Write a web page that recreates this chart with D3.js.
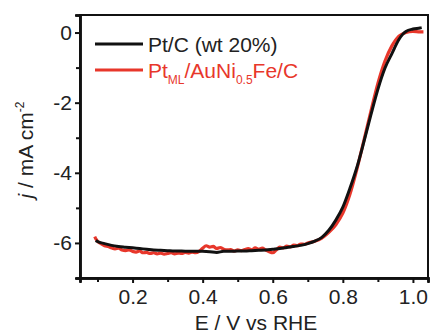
<!DOCTYPE html>
<html>
<head>
<meta charset="utf-8">
<script src="https://cdn.jsdelivr.net/npm/d3@7"></script>
<style>
  body { margin: 0; background: #fff; }
  text { font-family: "Liberation Sans", Arial, sans-serif; }
</style>
</head>
<body>
<div id="chart"></div>
<script>
// Pt/C (wt 20%) polarization curve
const ptcE = [0.095,0.10,0.12,0.14,0.16,0.18,0.20,0.22,0.24,0.26,0.28,0.30,0.32,0.34,0.36,0.38,0.40,0.42,0.44,0.46,0.48,0.50,0.52,0.54,0.56,0.58,0.60,0.62,0.64,0.66,0.68,0.70,0.72,0.74,0.76,0.78,0.80,0.82,0.84,0.86,0.88,0.90,0.92,0.94,0.96,0.97,0.98,1.00,1.02,1.025];
const ptcJ = [-5.93,-5.96,-6.02,-6.07,-6.10,-6.12,-6.14,-6.16,-6.18,-6.20,-6.21,-6.22,-6.23,-6.23,-6.24,-6.24,-6.24,-6.25,-6.27,-6.24,-6.24,-6.23,-6.23,-6.22,-6.21,-6.20,-6.18,-6.16,-6.13,-6.10,-6.07,-6.02,-5.95,-5.84,-5.64,-5.35,-4.98,-4.45,-3.85,-3.12,-2.35,-1.62,-1.02,-0.60,-0.20,-0.06,0.03,0.10,0.13,0.14];

// Pt_ML/AuNi0.5Fe/C polarization curve
const ptmlE = [0.092,0.095,0.10,0.11,0.12,0.13,0.14,0.15,0.16,0.17,0.18,0.19,0.20,0.21,0.22,0.23,0.24,0.25,0.26,0.27,0.28,0.29,0.30,0.31,0.32,0.33,0.34,0.35,0.36,0.37,0.38,0.39,0.40,0.41,0.42,0.43,0.44,0.45,0.46,0.47,0.48,0.49,0.50,0.51,0.52,0.53,0.54,0.55,0.56,0.57,0.58,0.59,0.60,0.61,0.62,0.63,0.64,0.65,0.66,0.67,0.68,0.69,0.70,0.72,0.74,0.76,0.78,0.80,0.82,0.84,0.86,0.88,0.90,0.92,0.94,0.96,0.98,1.00,1.02,1.03];
const ptmlJ = [-5.82,-5.88,-5.95,-6.02,-6.08,-6.10,-6.14,-6.17,-6.15,-6.20,-6.22,-6.20,-6.24,-6.26,-6.23,-6.28,-6.27,-6.30,-6.28,-6.31,-6.29,-6.32,-6.30,-6.28,-6.31,-6.29,-6.30,-6.27,-6.29,-6.26,-6.28,-6.24,-6.15,-6.08,-6.12,-6.10,-6.16,-6.13,-6.18,-6.20,-6.19,-6.23,-6.20,-6.22,-6.19,-6.16,-6.20,-6.14,-6.18,-6.15,-6.20,-6.25,-6.28,-6.20,-6.12,-6.14,-6.09,-6.11,-6.06,-6.08,-6.03,-6.04,-6.00,-5.95,-5.86,-5.70,-5.48,-5.15,-4.62,-3.90,-3.08,-2.25,-1.45,-0.82,-0.38,-0.10,0.00,0.03,0.02,0.02];

const xMajor = [0.2, 0.4, 0.6, 0.8, 1.0];
const xMinor = [0.1, 0.3, 0.5, 0.7, 0.9];
const yMajor = [0, -2, -4, -6];
const yMinor = [-1, -3, -5, -7];

const width = 432, height = 333;
const margin = { top: 15, right: 4, bottom: 55, left: 80 };
const fs = 21;

const svg = d3.select("#chart").append("svg")
  .attr("width", width)
  .attr("height", height);

const x = d3.scaleLinear().domain([0.05, 1.043]).range([margin.left, width - margin.right]);
const y = d3.scaleLinear().domain([-7, 0.5]).range([height - margin.bottom, margin.top]);

// frame
svg.append("rect")
  .attr("x", margin.left).attr("y", margin.top)
  .attr("width", width - margin.right - margin.left)
  .attr("height", height - margin.bottom - margin.top)
  .attr("fill", "none").attr("stroke", "#111").attr("stroke-width", 2);

// axes
svg.append("g").attr("transform", `translate(0,${height - margin.bottom})`)
  .call(d3.axisBottom(x).tickValues(xMajor).tickFormat(d3.format(".1f")).tickSize(5).tickPadding(6));
svg.append("g").attr("transform", `translate(0,${height - margin.bottom})`)
  .call(d3.axisBottom(x).tickValues(xMinor).tickFormat("").tickSize(4));
svg.append("g").attr("transform", `translate(${margin.left},0)`)
  .call(d3.axisLeft(y).tickValues(yMajor).tickFormat(d => d === 0 ? "0" : "-" + Math.abs(d)).tickSize(5).tickPadding(3));
svg.append("g").attr("transform", `translate(${margin.left},0)`)
  .call(d3.axisLeft(y).tickValues(yMinor).tickFormat("").tickSize(4));

svg.selectAll(".domain").attr("stroke", "#111").attr("stroke-width", 2.5);
svg.selectAll(".tick line").attr("stroke", "#111").attr("stroke-width", 2);
svg.selectAll(".tick text").attr("font-size", fs).attr("fill", "#222")
  .style("font-family", "'Liberation Sans', Arial, sans-serif");

// curves
const line = d3.line().x(d => x(d[0])).y(d => y(d[1])).curve(d3.curveMonotoneX);
const red = "#e8372b";

svg.append("path")
  .datum(ptmlE.map((e, i) => [e, ptmlJ[i]]))
  .attr("d", line).attr("fill", "none").attr("stroke", red).attr("stroke-width", 3.2);
svg.append("path")
  .datum(ptcE.map((e, i) => [e, ptcJ[i]]))
  .attr("d", line).attr("fill", "none").attr("stroke", "#111").attr("stroke-width", 3);

// legend
const leg = svg.append("g").attr("font-size", fs);
leg.append("line").attr("x1", 95).attr("x2", 143).attr("y1", 44).attr("y2", 44)
  .attr("stroke", "#111").attr("stroke-width", 3);
leg.append("text").attr("x", 148).attr("y", 52).attr("fill", "#222").text("Pt/C (wt 20%)");
leg.append("line").attr("x1", 95).attr("x2", 143).attr("y1", 70).attr("y2", 70)
  .attr("stroke", red).attr("stroke-width", 3);
const t2 = leg.append("text").attr("x", 148).attr("y", 78).attr("fill", red);
t2.append("tspan").text("Pt");
t2.append("tspan").attr("font-size", 12).attr("dy", 6).text("ML");
t2.append("tspan").attr("dy", -6).text("/AuNi");
t2.append("tspan").attr("font-size", 12).attr("dy", 6).text("0.5");
t2.append("tspan").attr("dy", -6).text("Fe/C");

// axis titles
svg.append("text").attr("x", (margin.left + width - margin.right) / 2 + 2).attr("y", 330)
  .attr("text-anchor", "middle").attr("font-size", fs).attr("fill", "#222").text("E / V vs RHE");

const yt = svg.append("text").attr("transform", "translate(33,150) rotate(-90)")
  .attr("text-anchor", "middle").attr("font-size", fs).attr("fill", "#222");
yt.append("tspan").attr("font-style", "italic").text("j");
yt.append("tspan").text(" / mA cm");
yt.append("tspan").attr("font-size", 12).attr("dy", -9).text("-2");
</script>
</body>
</html>
